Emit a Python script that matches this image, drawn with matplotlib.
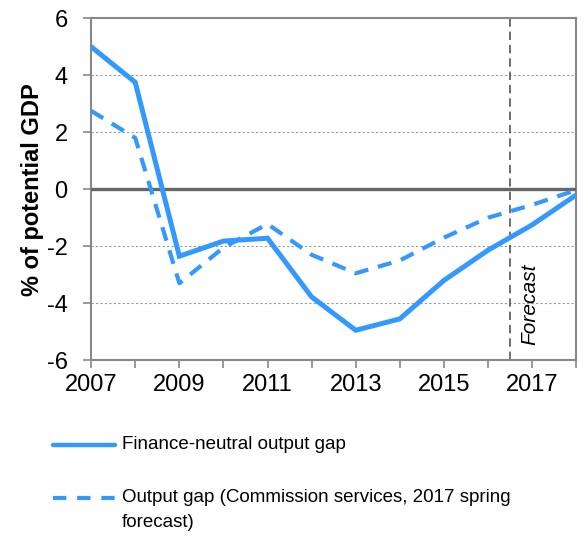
import matplotlib
matplotlib.use('Agg')
import matplotlib.pyplot as plt
from matplotlib.lines import Line2D

plt.rcParams['font.family'] = ['Liberation Sans', 'DejaVu Sans']
plt.rcParams['axes.unicode_minus'] = False

years = [2007, 2008, 2009, 2010, 2011, 2012, 2013, 2014, 2015, 2016, 2017, 2018]
fn_gap = [5.0, 3.75, -2.35, -1.82, -1.72, -3.78, -4.95, -4.55, -3.2, -2.14, -1.25, -0.2]
cs_gap = [2.75, 1.8, -3.3, -2.05, -1.22, -2.3, -2.95, -2.5, -1.7, -1.0, -0.55, -0.03]
forecast_start = 2016.5
xtick_labels = ['2007', '2009', '2011', '2013', '2015', '2017']

blue = '#3399ff'
grey = '#888888'

fig = plt.figure(figsize=(5.88, 5.36), dpi=100)
ax = fig.add_axes([0.155, 0.328, 0.825, 0.638])

ax.plot(years, fn_gap, color=blue, lw=3.6, solid_joinstyle='miter', zorder=4)
ax.plot(years, cs_gap, color=blue, lw=3.0, dashes=(3.4, 2.4), zorder=4)

for y in [-4, -2, 2, 4]:
    ax.axhline(y, color='#999999', lw=0.8, ls=(0, (2, 2)), zorder=1)
ax.axhline(0, color='#666666', lw=2.4, zorder=3)
ax.axvline(forecast_start, color='#555555', lw=1.2, ls=(0, (5, 3)), zorder=2)
ax.text(forecast_start + 0.45, -5.45, 'Forecast', rotation=90, style='italic',
        fontsize=15, ha='center', va='bottom')

ax.set_xlim(2007, 2018)
ax.set_ylim(-6, 6)
ax.set_xticks(years)
ax.set_xticklabels([str(y) if str(y) in xtick_labels else '' for y in years])
ax.set_yticks([-6, -4, -2, 0, 2, 4, 6])
ax.tick_params(axis='both', labelsize=17, color=grey, length=6, width=1.2, direction='out')
ax.tick_params(axis='x', pad=4)
ax.tick_params(axis='y', pad=11)
for s in ax.spines.values():
    s.set_color(grey)
    s.set_linewidth(1.5)

ax.set_ylabel('% of potential GDP', fontsize=17, fontweight='bold', labelpad=2)

# legend drawn by hand so the dashed key sits on the first text line
fig.add_artist(Line2D([0.090, 0.196], [0.170, 0.170], color=blue, lw=3.2,
                      solid_capstyle='round', transform=fig.transFigure))
fig.add_artist(Line2D([0.090, 0.196], [0.071, 0.071], color=blue, lw=3.0,
                      dashes=(3.2, 2.6), transform=fig.transFigure))
fig.text(0.2075, 0.170, 'Finance-neutral output gap', fontsize=13.5, va='center')
fig.text(0.2075, 0.071, 'Output gap (Commission services, 2017 spring',
         fontsize=13.5, va='center')
fig.text(0.2075, 0.026, 'forecast)', fontsize=13.5, va='center')

fig.savefig('out.png', dpi=100)
